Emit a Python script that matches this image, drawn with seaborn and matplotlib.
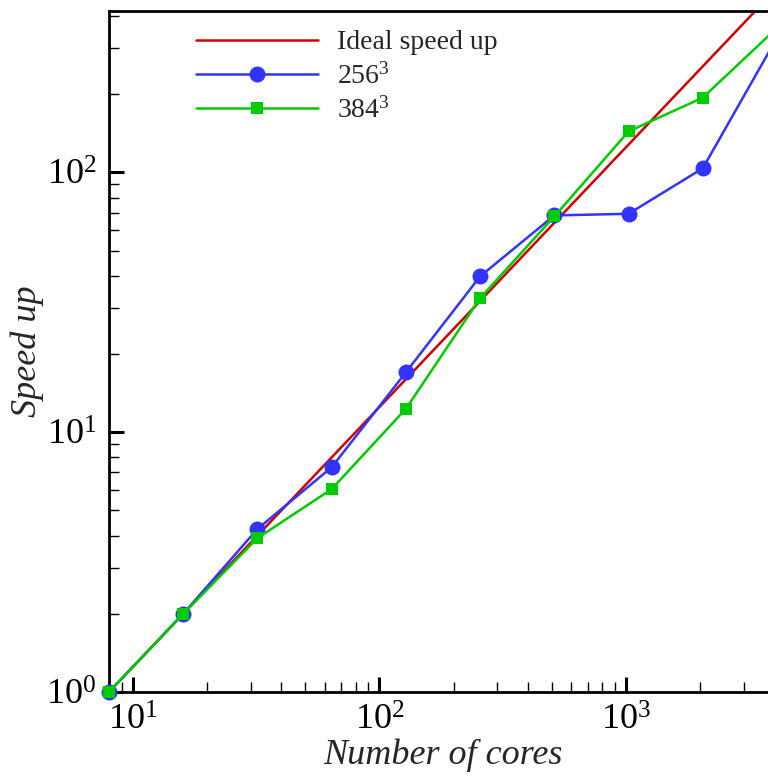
import numpy as np
import pandas as pd
import matplotlib
matplotlib.use("Agg")
import matplotlib.pyplot as plt
import matplotlib.ticker as mticker
import seaborn as sns

# Strong-scaling data: speed up relative to the 8-core run
cores = [8, 16, 32, 64, 128, 256, 512, 1024, 2048, 4096]
speedup_256 = [1.0, 2.0, 4.24, 7.33, 17.0, 39.8, 68.3, 69.3, 103.7, 330.0]
speedup_384 = [1.0, 2.0, 3.91, 6.04, 12.3, 32.8, 67.7, 143.8, 194.0, 360.0]
ideal_cores = [8, 4096]
ideal_speedup = [1.0, 512.0]

label_ideal = "Ideal speed up"
label_256 = "256$^3$"
label_384 = "384$^3$"

sns.set_theme(style="white")
plt.rcParams["font.family"] = ["Liberation Serif", "DejaVu Serif"]
plt.rcParams["mathtext.fontset"] = "custom"
plt.rcParams["mathtext.rm"] = "Liberation Serif"
plt.rcParams["mathtext.it"] = "Liberation Serif:italic"

fig = plt.figure(figsize=(7.68, 7.79), dpi=100)
ax = fig.add_axes([109 / 768, 87 / 779, 668 / 768, 681.5 / 779])

df_ideal = pd.DataFrame({"cores": ideal_cores, "speedup": ideal_speedup})
df_256 = pd.DataFrame({"cores": cores, "speedup": speedup_256})
df_384 = pd.DataFrame({"cores": cores, "speedup": speedup_384})

sns.lineplot(data=df_ideal, x="cores", y="speedup", ax=ax, color="#d40000",
             lw=1.8, label=label_ideal)
sns.lineplot(data=df_256, x="cores", y="speedup", ax=ax, color="#3333ff",
             lw=1.8, marker="o", markersize=11.5, markeredgewidth=0,
             label=label_256, clip_on=False, zorder=3)
sns.lineplot(data=df_384, x="cores", y="speedup", ax=ax, color="#00cc00",
             lw=1.8, marker="s", markersize=8, markeredgewidth=0,
             label=label_384, clip_on=False, zorder=4)

ax.set_xscale("log")
ax.set_yscale("log")
ax.set_xlim(8, 4096)
ax.set_ylim(1, 420)

ax.xaxis.set_major_locator(mticker.LogLocator(base=10))
ax.yaxis.set_major_locator(mticker.LogLocator(base=10))
ax.xaxis.set_minor_locator(mticker.LogLocator(base=10, subs=np.arange(2, 10)))
ax.yaxis.set_minor_locator(mticker.LogLocator(base=10, subs=np.arange(2, 10)))
ax.xaxis.set_major_formatter(mticker.LogFormatterMathtext())
ax.yaxis.set_major_formatter(mticker.LogFormatterMathtext())
ax.xaxis.set_minor_formatter(mticker.NullFormatter())
ax.yaxis.set_minor_formatter(mticker.NullFormatter())

ax.tick_params(which="major", direction="in", length=11, width=2.2,
               labelsize=26, colors="black", bottom=True, left=True)
ax.tick_params(which="minor", direction="in", length=7, width=1.0,
               colors="black", bottom=True, left=True)
ax.tick_params(axis="x", which="major", pad=9)
ax.tick_params(axis="y", which="major", pad=9)

for side in ["left", "bottom", "top", "right"]:
    ax.spines[side].set_color("black")
    ax.spines[side].set_linewidth(2.0)

ax.set_xlabel("Number of cores", fontsize=26, style="italic", labelpad=1)
ax.set_ylabel("Speed up", fontsize=26, style="italic", labelpad=2)

leg = ax.legend(loc="upper left", bbox_to_anchor=(0.109, 0.992),
                frameon=False, fontsize=20, handlelength=4.4,
                handletextpad=0.7, labelspacing=0.27, borderpad=0,
                numpoints=1)

fig.savefig("out.png", dpi=100)
